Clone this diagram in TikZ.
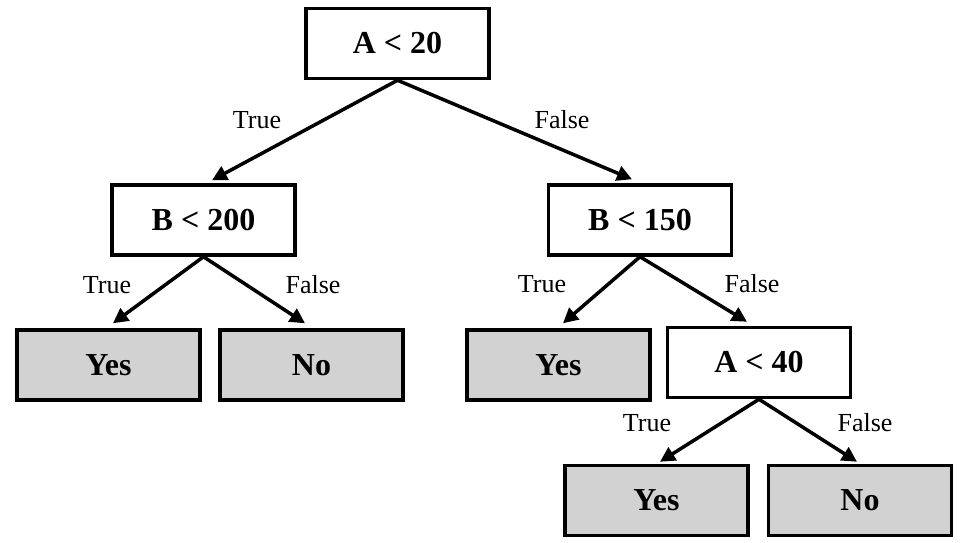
\documentclass[tikz,border=0pt]{standalone}
\usepackage{fontspec}
\setmainfont{Liberation Serif}
\usetikzlibrary{arrows.meta,calc}
\definecolor{leafgray}{RGB}{210,210,210}
\tikzset{
  testbox/.style={draw=black, line width=3.5pt, fill=white, minimum width=183pt, minimum height=70pt, inner sep=0pt,
    font=\fontsize{32}{38}\selectfont\bfseries},
  leafbox/.style={testbox, fill=leafgray},
  edge/.style={line width=3.5pt, -{Triangle[length=15pt,width=15pt]}},
  lbl/.style={font=\fontsize{26}{30}\selectfont, inner sep=0pt}
}
\begin{document}
\begin{tikzpicture}[x=1pt,y=-1pt]
\useasboundingbox (0,0) rectangle (964,542);
\node[testbox] (root) at (397.5,43.5) {A < 20};
\node[testbox] (b1) at (203.5,220) {B < 200};
\node[testbox] (b2) at (640,220) {B < 150};
\node[leafbox] (y1) at (108.5,365) {Yes};
\node[leafbox] (n1) at (311.5,365) {No};
\node[leafbox] (y2) at (558.5,365) {Yes};
\node[testbox] (a2) at (759,362.5) {A < 40};
\node[leafbox] (y3) at (656.5,500.5) {Yes};
\node[leafbox] (n3) at (860,500.5) {No};

\draw[edge] (root.south) -- ($(b1.north)+(8.5,-3)$);
\draw[edge] (root.south) -- ($(b2.north)+(-8,-4)$);
\draw[edge] (b1.south) -- ($(y1.north)+(4.5,-5)$);
\draw[edge] (b1.south) -- ($(n1.north)+(-6.5,-5)$);
\draw[edge] (b2.south) -- ($(y2.north)+(4.5,-5)$);
\draw[edge] (b2.south) -- ($(a2.north)+(-12,-4)$);
\draw[edge] (a2.south) -- ($(y3.north)+(3.5,-2)$);
\draw[edge] (a2.south) -- ($(n3.north)+(-3,-2)$);

\node[lbl] (t1) at (257,120) {True};
\node[lbl] (f1) at (562,120) {False};
\node[lbl] (t2) at (107,285) {True};
\node[lbl] (f2) at (313,285) {False};
\node[lbl] (t3) at (542,284) {True};
\node[lbl] (f3) at (752,284) {False};
\node[lbl] (t4) at (647,423) {True};
\node[lbl] (f4) at (865,423) {False};
\end{tikzpicture}
\end{document}
